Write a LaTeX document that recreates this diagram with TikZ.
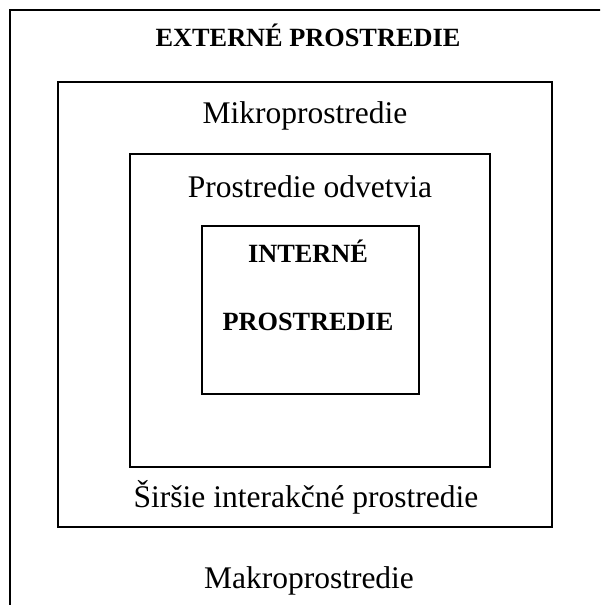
\documentclass[tikz,border=0pt]{standalone}
\usepackage{fontspec}
\setmainfont{Liberation Serif}
\begin{document}
\begin{tikzpicture}[x=1pt,y=-1pt,
  frame/.style={draw=black,line width=2pt},
  reg/.style={font=\fontsize{31.5}{36}\selectfont,anchor=base,inner sep=0pt},
  bld/.style={font=\fontsize{26.3}{30}\selectfont\bfseries,anchor=base,inner sep=0pt}]
\useasboundingbox (0,0) rectangle (600,605);
\clip (0,0) rectangle (600,605);
\draw[frame] (10,10) rectangle (640,660);
\draw[frame] (58,82) rectangle (552,527);
\draw[frame] (130,154) rectangle (490,467);
\draw[frame] (202,226) rectangle (419,394);
\node[bld] (ext) at (308,46) {EXTERNÉ PROSTREDIE};
\node[reg] (mikro) at (305,123) {Mikroprostredie};
\node[reg] (odv) at (310,197) {Prostredie odvetvia};
\node[bld] (int1) at (308,262) {INTERNÉ};
\node[bld] (int2) at (308,330) {PROSTREDIE};
\node[reg] (sir) at (306,507) {Širšie interakčné prostredie};
\node[reg] (makro) at (309,588) {Makroprostredie};
\end{tikzpicture}
\end{document}
